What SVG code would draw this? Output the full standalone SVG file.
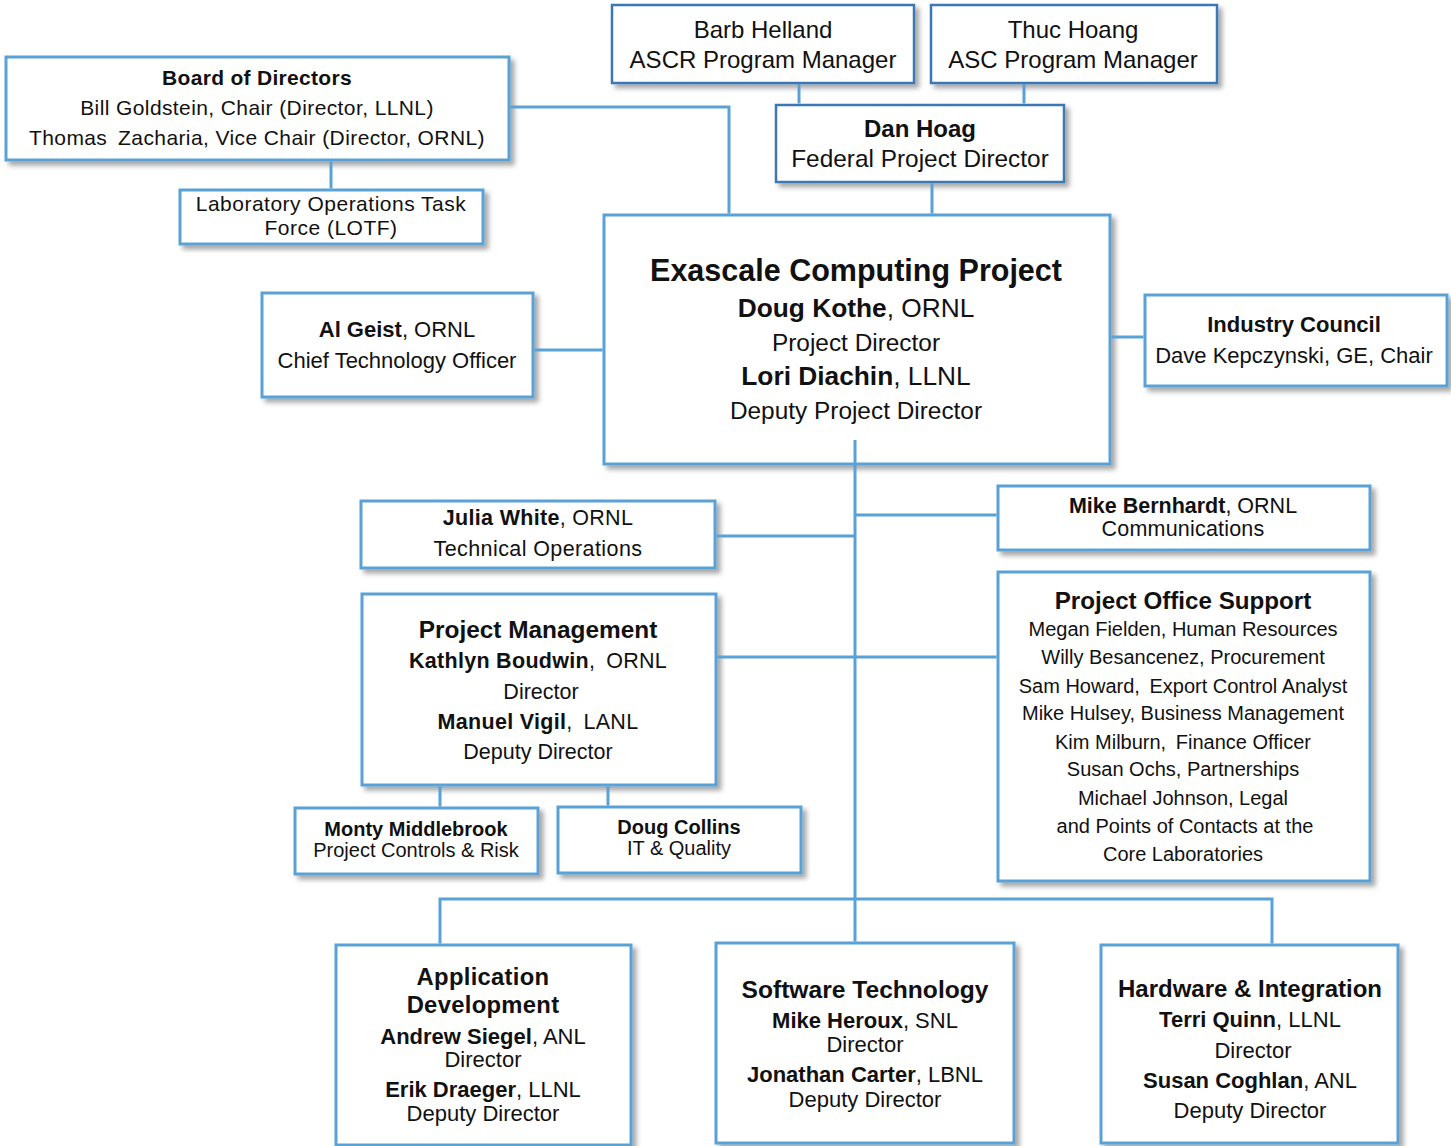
<svg xmlns="http://www.w3.org/2000/svg" width="1451" height="1146" viewBox="0 0 1451 1146">
<defs>
<filter id="sh" x="-5%" y="-5%" width="115%" height="120%">
<feDropShadow dx="4" dy="4" stdDeviation="2.5" flood-color="#000" flood-opacity="0.35"/>
</filter>
</defs>
<style>
.box{fill:#fff;stroke:#5aa2d6;stroke-width:3;filter:url(#sh)}
.boxd{fill:#fff;stroke:#3b78b4;stroke-width:2.5;filter:url(#sh)}
.ln{stroke:#5aa2d6;stroke-width:3;fill:none}
text{font-family:"Liberation Sans",Arial,sans-serif;fill:#111;text-anchor:middle}
.b{font-weight:bold}
.s20{font-size:20px}
.s22{font-size:22px}
.s24{font-size:24px}
.t25{font-size:24.6px}
</style>
<rect width="1451" height="1146" fill="#fff"/>
<g id="board">
<rect class="box" x="6" y="57" width="503" height="103"/>
<text class="b" x="257" y="85" style="font-size:21px;letter-spacing:0.3px">Board of Directors</text>
<text x="257" y="115" style="font-size:21px;letter-spacing:0.4px">Bill Goldstein, Chair (Director, LLNL)</text>
<text x="257" y="145" style="font-size:21px;letter-spacing:0.4px">Thomas&#8201; Zacharia, Vice Chair (Director, ORNL)</text>
</g>
<g id="lotf">
<rect class="box" x="180" y="190" width="303" height="54"/>
<text x="331" y="211" style="font-size:21px;letter-spacing:0.5px">Laboratory Operations Task</text>
<text x="331" y="235" style="font-size:21px;letter-spacing:0.5px">Force (LOTF)</text>
</g>
<g id="barb">
<rect class="boxd" x="612" y="5" width="302" height="78"/>
<text class="s24" x="763" y="38">Barb Helland</text>
<text class="s24" x="763" y="68">ASCR Program Manager</text>
</g>
<g id="thuc">
<rect class="boxd" x="931" y="5" width="286" height="78"/>
<text class="s24" x="1073" y="38">Thuc Hoang</text>
<text class="s24" x="1073" y="68">ASC Program Manager</text>
</g>
<g id="danhoag">
<rect class="boxd" x="776" y="105" width="288" height="77"/>
<text class="s24 b" x="920" y="137">Dan Hoag</text>
<text x="920" y="167" style="font-size:24.4px">Federal Project Director</text>
</g>
<g id="ecp">
<rect class="box" x="604" y="215" width="506" height="249"/>
<text class="b" x="856" y="281" style="font-size:30.5px">Exascale Computing Project</text>
<text x="856" y="317" style="font-size:26.3px"><tspan class="b">Doug Kothe</tspan>, ORNL</text>
<text x="856" y="351" style="font-size:24.4px">Project Director</text>
<text x="856" y="385" style="font-size:26.3px"><tspan class="b">Lori Diachin</tspan>, LLNL</text>
<text x="856" y="419" style="font-size:24.4px">Deputy Project Director</text>
</g>
<g id="algeist">
<rect class="box" x="262" y="293" width="271" height="104"/>
<text class="s22" x="397" y="337"><tspan class="b">Al Geist</tspan>, ORNL</text>
<text class="s22" x="397" y="368">Chief Technology Officer</text>
</g>
<g id="industry">
<rect class="box" x="1145" y="295" width="302" height="91"/>
<text class="s22 b" x="1294" y="332">Industry Council</text>
<text class="s22" x="1294" y="363">Dave Kepczynski, GE, Chair</text>
</g>
<g id="julia">
<rect class="box" x="361" y="501" width="354" height="67"/>
<text x="538" y="525" style="font-size:21.5px;letter-spacing:0.3px"><tspan class="b">Julia White</tspan>, ORNL</text>
<text x="538" y="556" style="font-size:21.5px;letter-spacing:0.4px">Technical Operations</text>
</g>
<g id="bernhardt">
<rect class="box" x="998" y="486" width="372" height="64"/>
<text x="1183" y="513" style="font-size:21.5px"><tspan class="b">Mike Bernhardt</tspan>, ORNL</text>
<text x="1183" y="536" style="font-size:21.5px;letter-spacing:0.2px">Communications</text>
</g>
<g id="pm">
<rect class="box" x="362" y="594" width="354" height="191"/>
<text class="b" x="538" y="638" style="font-size:24.4px">Project Management</text>
<text x="538" y="668" style="font-size:21.5px;letter-spacing:0.3px"><tspan class="b">Kathlyn Boudwin</tspan>,&#8201; ORNL</text>
<text x="541" y="699" style="font-size:21.5px">Director</text>
<text x="538" y="729" style="font-size:21.5px;letter-spacing:0.3px"><tspan class="b">Manuel Vigil</tspan>,&#8201; LANL</text>
<text x="538" y="759" style="font-size:21.5px">Deputy Director</text>
</g>
<g id="pos">
<rect class="box" x="998" y="572" width="372" height="309"/>
<text class="b" x="1183" y="609" style="font-size:24.2px">Project Office Support</text>
<text class="s20" x="1183" y="636">Megan Fielden, Human Resources</text>
<text class="s20" x="1183" y="664">Willy Besancenez, Procurement</text>
<text class="s20" x="1183" y="693">Sam Howard,&#8201; Export Control Analyst</text>
<text class="s20" x="1183" y="720">Mike Hulsey, Business Management</text>
<text class="s20" x="1183" y="749">Kim Milburn,&#8201; Finance Officer</text>
<text class="s20" x="1183" y="776">Susan Ochs, Partnerships</text>
<text class="s20" x="1183" y="805">Michael Johnson, Legal</text>
<text class="s20" x="1185" y="833">and Points of Contacts at the</text>
<text class="s20" x="1183" y="861">Core Laboratories</text>
</g>
<g id="monty">
<rect class="box" x="295" y="808" width="243" height="66"/>
<text class="s20 b" x="416" y="836">Monty Middlebrook</text>
<text class="s20" x="416" y="857">Project Controls &amp; Risk</text>
</g>
<g id="collins">
<rect class="box" x="558" y="807" width="243" height="66"/>
<text class="s20 b" x="679" y="834">Doug Collins</text>
<text class="s20" x="679" y="855">IT &amp; Quality</text>
</g>
<g id="appdev">
<rect class="box" x="336" y="945" width="295" height="200"/>
<text class="b" x="483" y="985" style="font-size:23.8px;letter-spacing:0.3px">Application</text>
<text class="b" x="483" y="1013" style="font-size:23.8px;letter-spacing:0.3px">Development</text>
<text class="s22" x="483" y="1044"><tspan class="b">Andrew Siegel</tspan>, ANL</text>
<text class="s22" x="483" y="1067">Director</text>
<text class="s22" x="483" y="1097"><tspan class="b">Erik Draeger</tspan>, LLNL</text>
<text class="s22" x="483" y="1121">Deputy Director</text>
</g>
<g id="software">
<rect class="box" x="716" y="943" width="298" height="200"/>
<text class="b t25" x="865" y="998">Software Technology</text>
<text class="s22" x="865" y="1028"><tspan class="b">Mike Heroux</tspan>, SNL</text>
<text class="s22" x="865" y="1052">Director</text>
<text class="s22" x="865" y="1082"><tspan class="b">Jonathan Carter</tspan>, LBNL</text>
<text class="s22" x="865" y="1107">Deputy Director</text>
</g>
<g id="hardware">
<rect class="box" x="1101" y="945" width="297" height="198"/>
<text class="s24 b" x="1250" y="997">Hardware &amp; Integration</text>
<text class="s22" x="1250" y="1027"><tspan class="b">Terri Quinn</tspan>, LLNL</text>
<text class="s22" x="1253" y="1058">Director</text>
<text class="s22" x="1250" y="1088"><tspan class="b">Susan Coghlan</tspan>, ANL</text>
<text class="s22" x="1250" y="1118">Deputy Director</text>
</g>
<g id="connectors">
<path class="ln" d="M331 161.5V188.5"/>
<path class="ln" d="M510.5 107H729V213.5"/>
<path class="ln" d="M799 84V103.5M1024 84V103.5M932 183.5V213.5"/>
<path class="ln" d="M534.5 350H602.5"/>
<path class="ln" d="M1111.5 337H1143.5"/>
<path class="ln" d="M855 440V941.5"/>
<path class="ln" d="M716.5 536H855"/>
<path class="ln" d="M855 515H996.5"/>
<path class="ln" d="M717.5 657H996.5"/>
<path class="ln" d="M440 786.5V806.5M608 786.5V805.5"/>
<path class="ln" d="M440 943.5V899H1272V943.5"/>
</g>
</svg>
